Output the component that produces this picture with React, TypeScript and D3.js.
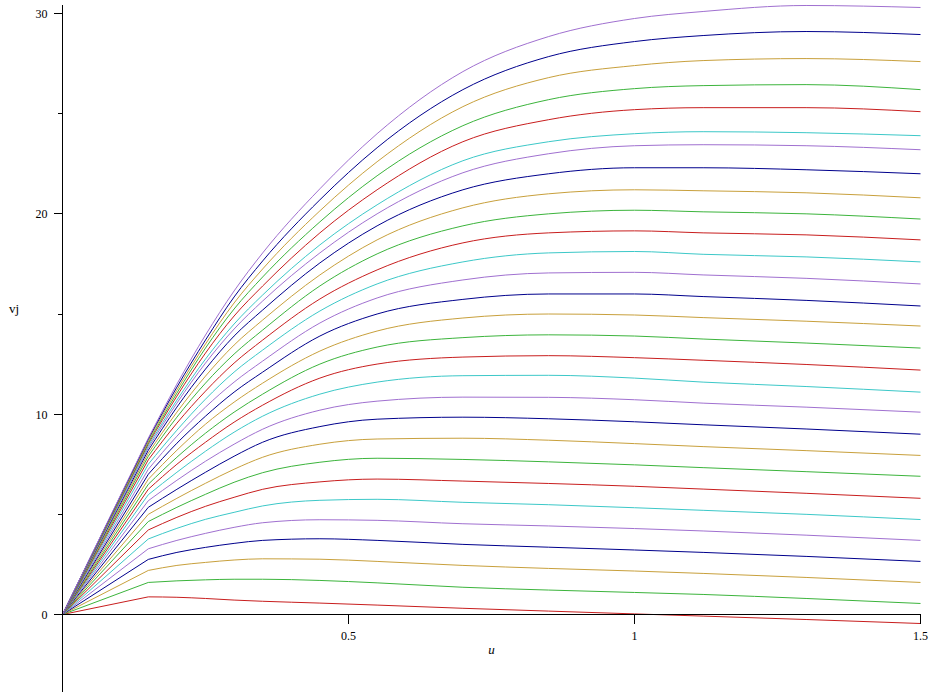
import React from "react";
import * as d3 from "d3";

// Parameter grid (u) and the curves v_j(u), j = 1 (bottom) .. 29 (top)
const U = [0, 0.15, 0.2, 0.25, 0.3, 0.35, 0.45, 0.55, 0.7, 0.85, 1.0, 1.12, 1.3, 1.5];

const VJ: number[][] = [
  [0, 0.88, 0.86, 0.8, 0.72, 0.66, 0.57, 0.47, 0.31, 0.17, 0.03, -0.08, -0.25, -0.45],
  [0, 1.6, 1.68, 1.73, 1.76, 1.76, 1.7, 1.58, 1.36, 1.22, 1.1, 1.0, 0.8, 0.55],
  [0, 2.2, 2.45, 2.6, 2.72, 2.78, 2.76, 2.65, 2.45, 2.3, 2.17, 2.05, 1.85, 1.6],
  [0, 2.75, 3.1, 3.35, 3.55, 3.7, 3.78, 3.7, 3.5, 3.36, 3.22, 3.1, 2.9, 2.65],
  [0, 3.28, 3.7, 4.05, 4.35, 4.58, 4.73, 4.7, 4.53, 4.42, 4.29, 4.17, 3.96, 3.7],
  [0, 3.77, 4.3, 4.75, 5.1, 5.42, 5.7, 5.75, 5.6, 5.48, 5.33, 5.2, 5.0, 4.74],
  [0, 4.22, 4.85, 5.4, 5.85, 6.25, 6.62, 6.76, 6.66, 6.54, 6.4, 6.26, 6.05, 5.8],
  [0, 4.64, 5.35, 6.0, 6.6, 7.08, 7.6, 7.8, 7.74, 7.62, 7.47, 7.33, 7.13, 6.9],
  [0, 5.0, 5.8, 6.55, 7.25, 7.85, 8.5, 8.76, 8.8, 8.7, 8.53, 8.38, 8.18, 7.94],
  [0, 5.35, 6.25, 7.1, 7.9, 8.6, 9.38, 9.75, 9.85, 9.77, 9.62, 9.47, 9.26, 9.0],
  [0, 5.68, 6.7, 7.65, 8.5, 9.25, 10.2, 10.65, 10.85, 10.84, 10.72, 10.55, 10.35, 10.1],
  [0, 5.98, 7.1, 8.15, 9.1, 9.9, 11.0, 11.6, 11.92, 11.94, 11.8, 11.6, 11.38, 11.1],
  [0, 6.25, 7.5, 8.6, 9.6, 10.45, 11.8, 12.5, 12.85, 12.92, 12.82, 12.69, 12.48, 12.2],
  [0, 6.5, 7.85, 9.05, 10.1, 11.0, 12.5, 13.35, 13.82, 13.96, 13.9, 13.75, 13.55, 13.3],
  [0, 6.75, 8.2, 9.5, 10.6, 11.55, 13.15, 14.15, 14.8, 15.0, 14.95, 14.82, 14.64, 14.4],
  [0, 7.0, 8.55, 9.9, 11.1, 12.1, 13.9, 15.0, 15.73, 16.0, 16.0, 15.87, 15.68, 15.4],
  [0, 7.25, 8.9, 10.35, 11.6, 12.65, 14.55, 15.8, 16.7, 17.05, 17.08, 16.95, 16.78, 16.5],
  [0, 7.5, 9.2, 10.75, 12.1, 13.2, 15.15, 16.5, 17.6, 18.05, 18.12, 17.98, 17.85, 17.6],
  [0, 7.72, 9.55, 11.15, 12.55, 13.7, 15.75, 17.2, 18.55, 19.05, 19.15, 19.05, 18.95, 18.7],
  [0, 7.9, 9.85, 11.55, 13.0, 14.2, 16.4, 18.0, 19.4, 20.0, 20.18, 20.1, 20.0, 19.74],
  [0, 8.05, 10.1, 11.9, 13.45, 14.7, 16.95, 18.7, 20.3, 21.0, 21.2, 21.15, 21.05, 20.8],
  [0, 8.2, 10.35, 12.25, 13.9, 15.2, 17.55, 19.4, 21.2, 22.0, 22.3, 22.3, 22.2, 22.0],
  [0, 8.32, 10.55, 12.55, 14.25, 15.65, 18.05, 20.0, 22.05, 23.0, 23.4, 23.45, 23.4, 23.2],
  [0, 8.42, 10.7, 12.75, 14.5, 15.95, 18.45, 20.45, 22.65, 23.6, 24.0, 24.1, 24.05, 23.9],
  [0, 8.52, 10.9, 13.05, 14.9, 16.4, 19.05, 21.2, 23.6, 24.7, 25.2, 25.3, 25.3, 25.1],
  [0, 8.6, 11.05, 13.3, 15.25, 16.85, 19.6, 21.9, 24.4, 25.7, 26.25, 26.4, 26.45, 26.2],
  [0, 8.68, 11.2, 13.5, 15.55, 17.25, 20.15, 22.6, 25.35, 26.8, 27.4, 27.65, 27.75, 27.6],
  [0, 8.75, 11.35, 13.7, 15.85, 17.65, 20.7, 23.3, 26.2, 27.85, 28.6, 28.9, 29.1, 28.95],
  [0, 8.8, 11.5, 13.95, 16.15, 18.05, 21.25, 24.0, 27.1, 28.85, 29.75, 30.1, 30.4, 30.3],
];

const COLORS = ["#c81e1e", "#3cb43c", "#c8a03c", "#00008c", "#a070d0", "#3cc8c8"];

const X_TICKS = [0.5, 1, 1.5];
const X_TICK_LABELS = ["0.5", "1", "1.5"];
const Y_TICKS = [0, 10, 20, 30];
const Y_TICK_LABELS = ["0", "10", "20", "30"];
const Y_MINOR = [5, 15, 25];
const X_LABEL = "u";
const Y_LABEL = "vj";

const W = 934;
const H = 698;

export default function App() {
  const x = d3.scaleLinear().domain([0, 1.5]).range([62.5, 920.5]);
  const y = d3.scaleLinear().domain([0, 30]).range([614.5, 13.5]);

  const smooth = d3
    .line<[number, number]>()
    .x((d) => x(d[0]))
    .y((d) => y(d[1]))
    .curve(d3.curveMonotoneX);

  const paths = VJ.map((vals) => {
    const pts: [number, number][] = U.map((u, i) => [u, vals[i]]);
    const rest = smooth(pts.slice(1)) || "";
    return `M${x(pts[0][0])},${y(pts[0][1])}L` + rest.slice(1);
  });

  const font = "'Liberation Serif', 'Times New Roman', serif";

  return (
    <svg
      width={W}
      height={H}
      style={{ position: "absolute", left: 0, top: 0, display: "block", background: "#fff" }}
    >
      <rect x={0} y={0} width={W} height={H} fill="#fff" />
      <g fill="none" strokeWidth={1}>
        {paths.map((d, i) => (
          <path key={i} d={d} stroke={COLORS[i % COLORS.length]} />
        ))}
      </g>
      {/* axes */}
      <g stroke="#000" strokeWidth={1} shapeRendering="crispEdges">
        <line x1={x(0)} x2={x(0)} y1={y(30.4)} y2={y(-3.88)} />
        <line x1={x(0)} x2={x(1.5)} y1={y(0)} y2={y(0)} />
        {X_TICKS.map((t) => (
          <line key={t} x1={x(t)} x2={x(t)} y1={y(0)} y2={y(0) + 9} />
        ))}
        {Y_TICKS.map((t) => (
          <line key={t} x1={x(0) - 9} x2={x(0)} y1={y(t)} y2={y(t)} />
        ))}
        {Y_MINOR.map((t) => (
          <line key={t} x1={x(0) - 5} x2={x(0)} y1={y(t)} y2={y(t)} />
        ))}
      </g>
      <g fontFamily={font} fontSize={12} fill="#000">
        {X_TICKS.map((t, i) => (
          <text key={t} x={x(t)} y={y(0) + 25} textAnchor="middle">
            {X_TICK_LABELS[i]}
          </text>
        ))}
        {Y_TICKS.map((t, i) => (
          <text key={t} x={x(0) - 15} y={y(t) + 4.5} textAnchor="end">
            {Y_TICK_LABELS[i]}
          </text>
        ))}
        <text x={x(0.75)} y={654} textAnchor="middle" fontStyle="italic" fontSize={13}>
          {X_LABEL}
        </text>
        <text x={9} y={313} fontSize={13}>
          {Y_LABEL}
        </text>
      </g>
    </svg>
  );
}
